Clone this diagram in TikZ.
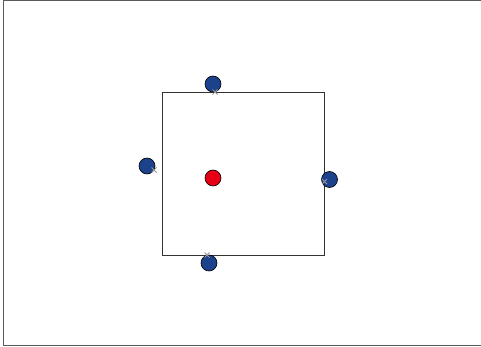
\documentclass[tikz,border=0pt]{standalone}
\definecolor{dotblue}{RGB}{28,66,140}
\definecolor{dotred}{RGB}{230,0,22}
\definecolor{framegray}{RGB}{90,90,90}
\definecolor{markgray}{RGB}{150,150,150}
\tikzset{
  bluedot/.style={circle,draw=black,line width=0.6pt,fill=dotblue,minimum size=16pt,inner sep=0pt},
  reddot/.style={circle,draw=black,line width=0.6pt,fill=dotred,minimum size=16pt,inner sep=0pt},
  marker/.style={cross out,draw=markgray,line width=1pt,minimum size=4pt,inner sep=0pt},
  frameline/.style={draw=framegray,line width=1pt},
  boxline/.style={draw=black!80,line width=0.7pt}
}
\usetikzlibrary{shapes.misc}
\begin{document}
\begin{tikzpicture}[x=1pt,y=-1pt]
\useasboundingbox (0,0) rectangle (481,347);
\coordinate (f1) at (481,1);
\coordinate (f2) at (3,1);
\coordinate (f3) at (3,345);
\coordinate (f4) at (481,345);
\draw[frameline] (f1) -- (f2) -- (f3) -- (f4);
\node[boxline,draw,rectangle,minimum width=162pt,minimum height=163pt,inner sep=0pt] (sq) at (243,173.5) {};
\node[bluedot] (top) at (213,84) {};
\node[bluedot] (left) at (147,166) {};
\node[bluedot] (right) at (329.5,179.5) {};
\node[bluedot] (bottom) at (209,263) {};
\node[reddot] (center) at (213,178) {};
\node[marker] (mt) at (215,92) {};
\node[marker] (ml) at (154,170) {};
\node[marker] (mr) at (324.5,181.5) {};
\node[marker] (mb) at (207,255) {};
\end{tikzpicture}
\end{document}
